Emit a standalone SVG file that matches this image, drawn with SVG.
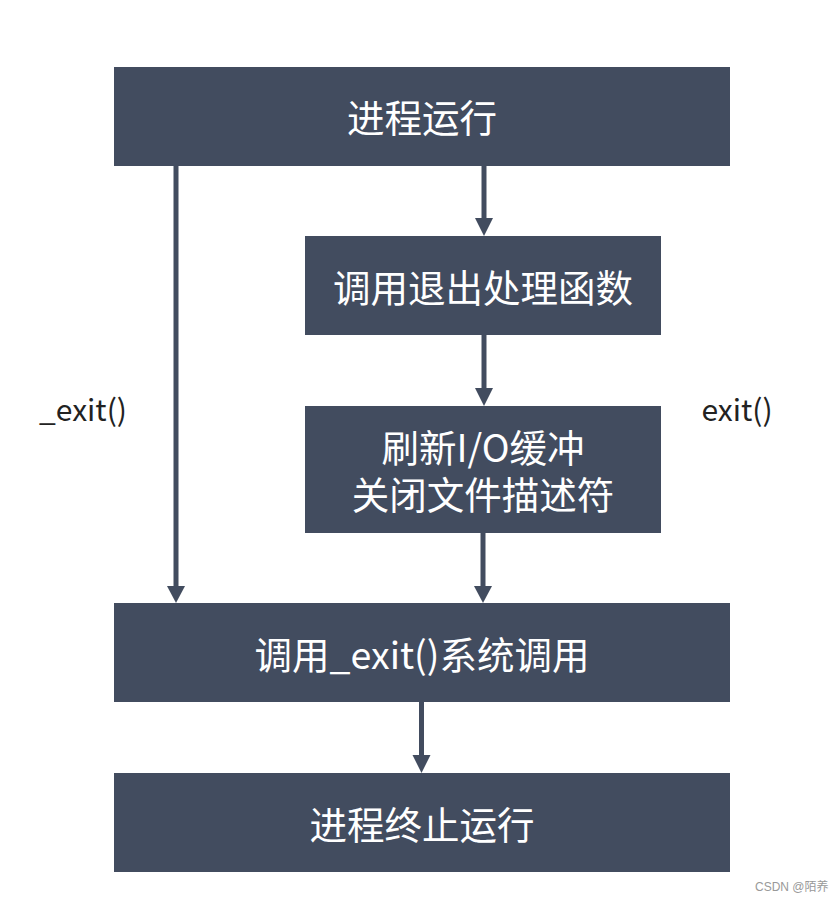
<svg xmlns="http://www.w3.org/2000/svg" width="838" height="901" viewBox="0 0 838 901">
<style>
.box{fill:#424c5f}
.t{fill:#ffffff;font-family:"Noto Sans CJK SC","Microsoft YaHei",sans-serif;font-size:37.5px;text-anchor:middle;dominant-baseline:central}
.lbl{fill:#222222;font-family:"Noto Sans CJK SC","Noto Sans",sans-serif;font-size:30px;text-anchor:middle;dominant-baseline:central}
.ln{stroke:#424c5f;stroke-width:5;fill:none}
.ah{fill:#424c5f}
.wm{fill:#999999;font-family:"Liberation Sans","Noto Sans CJK SC",sans-serif;font-size:12px}
</style>
<rect width="838" height="901" fill="#ffffff"/>
<g id="connectors">
<line class="ln" x1="176" y1="166" x2="176" y2="588"/>
<polygon class="ah" points="167,586 185,586 176,603"/>
<line class="ln" x1="484" y1="166" x2="484" y2="220"/>
<polygon class="ah" points="475,218 493,218 484,236"/>
<line class="ln" x1="484" y1="335" x2="484" y2="390"/>
<polygon class="ah" points="475,388 493,388 484,406"/>
<line class="ln" x1="483" y1="533" x2="483" y2="588"/>
<polygon class="ah" points="474,586 492,586 483,603"/>
<line class="ln" x1="421.5" y1="702" x2="421.5" y2="757"/>
<polygon class="ah" points="412.5,755 430.5,755 421.5,773"/>
</g>
<g id="n1"><rect class="box" x="114" y="67" width="616" height="99"/><text class="t" x="422" y="115">进程运行</text></g>
<g id="n2"><rect class="box" x="305" y="236" width="356" height="99"/><text class="t" x="483" y="285">调用退出处理函数</text></g>
<g id="n3"><rect class="box" x="305" y="406" width="356" height="127"/><text class="t" x="483" y="445">刷新I/O缓冲</text><text class="t" x="483" y="492">关闭文件描述符</text></g>
<g id="n4"><rect class="box" x="114" y="603" width="616" height="99"/><text class="t" x="422" y="652">调用_exit()系统调用</text></g>
<g id="n5"><rect class="box" x="114" y="773" width="616" height="99"/><text class="t" x="422" y="822">进程终止运行</text></g>
<g id="labels">
<text class="lbl" x="83" y="408">_exit()</text>
<text class="lbl" x="737" y="408">exit()</text>
</g>
<text class="wm" x="755" y="891">CSDN @陌养</text>
</svg>
